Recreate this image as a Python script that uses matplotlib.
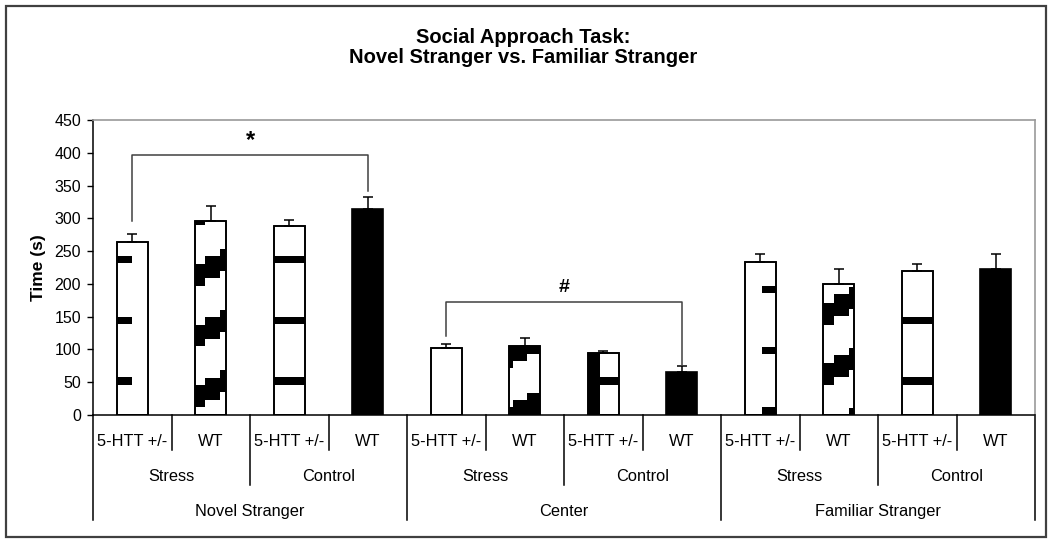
import matplotlib
matplotlib.use("Agg")
import matplotlib.pyplot as plt
from matplotlib.patches import Rectangle
import matplotlib.transforms as mtransforms

plt.rcParams['font.family'] = ['Liberation Sans', 'DejaVu Sans']

# ---------------- data ----------------
regions = ["Novel Stranger", "Center", "Familiar Stranger"]
conditions = ["Stress", "Control"]
genotypes = ["5-HTT +/-", "WT"]
values = [264, 296, 288, 314, 102, 106, 95, 65, 233, 200, 220, 223]
errors = [12, 23, 10, 19, 6, 11, 3, 10, 12, 23, 11, 22]
yticks = [0, 50, 100, 150, 200, 250, 300, 350, 400, 450]
title_lines = ["Social Approach Task:", "Novel Stranger vs. Familiar Stranger"]
ylabel = "Time (s)"
# significance brackets: (left bar, right bar, top, left foot, right foot, symbol)
brackets = [(0, 3, 396, 296, 342, "*"), (4, 7, 172, 121, 76, "#")]

# ---------------- styles (Excel-like pattern fills) ----------------
# each: list of (x0 frac, x1 frac, low, height, period)
P = 92.5


def stair(a, b, d, e, f):
    return [(0, a, d, 33.5, P), (a, b, e, 33.5, P), (b, 1, f, 33.5, P)]


patterns = [
    [(0, 0.48, 46.5, 11, P)],
    stair(0.31, 0.80, 12.0, 23.5, 34.6),
    [(0, 1, 46.5, 11, P)],
    "solid",
    [],
    stair(0.12, 0.57, -21.5, -10.5, 0.6),
    [(0, 0.40, -10, 1000, None), (0.40, 1, 46.5, 11, P)],
    "solid",
    [(0.55, 1, 0.5, 11, P)],
    stair(0.36, 0.83, 45.5, 58.5, 69.0),
    [(0, 1, 46.5, 11, P)],
    "solid",
]

fig = plt.figure(figsize=(10.5, 5.41), dpi=100)
ax = fig.add_axes([93 / 1050, 1 - 415 / 541, (1035 - 93) / 1050, 295 / 541])

n = len(values)
xs = list(range(n))
bw = 0.4
for i, (x, v) in enumerate(zip(xs, values)):
    pat = patterns[i]
    face = "black" if pat == "solid" else "white"
    bar = ax.bar(x, v, width=bw, color=face, edgecolor="black", linewidth=1.2, zorder=2)[0]
    if pat != "solid":
        for (f0, f1, low, h, per) in pat:
            ks = range(-4, 8) if per else [0]
            for k in ks:
                y0 = low + (k * per if per else 0)
                r = Rectangle((x - bw / 2 + f0 * bw, y0), (f1 - f0) * bw, h,
                              facecolor="black", edgecolor="none", zorder=2.5)
                ax.add_patch(r)
                r.set_clip_path(bar)
        # redraw edge on top
        ax.add_patch(Rectangle((x - bw / 2, 0), bw, v, facecolor="none",
                               edgecolor="black", linewidth=1.2, zorder=3))

ax.errorbar(xs, values, yerr=[[0] * n, errors], fmt="none", ecolor="black",
            elinewidth=1.1, capsize=3.3, capthick=1.1, zorder=4)

ax.set_xlim(-0.5, n - 0.5)
ax.set_ylim(0, 450)
ax.set_yticks(yticks)
ax.tick_params(axis="y", direction="out", length=4.5, width=1, labelsize=11.5, pad=4)
ax.set_xticks([])
for s in ["top", "right"]:
    ax.spines[s].set_color("#9a9a9a")
    ax.spines[s].set_linewidth(1.2)
for s in ["left", "bottom"]:
    ax.spines[s].set_color("black")
    ax.spines[s].set_linewidth(1.1)
ax.set_ylabel(ylabel, fontsize=12.5, fontweight="bold")
ax.yaxis.set_label_coords((45.5 - 93) / 942, 0.5)

# brackets
for (a, b, top, fa, fb, sym) in brackets:
    ax.plot([a, a, b, b], [fa, top, top, fb], color="#404040", lw=1.1, zorder=4, clip_on=False)
    ax.text((a + b) / 2, top + 22, sym, ha="center", va="center",
            fontsize=17 if sym == "*" else 14, fontweight="bold")

# hierarchical x labels
tr = mtransforms.blended_transform_factory(ax.transData, ax.transAxes)
r1, r2, r3 = -0.105, -0.2227, -0.3424
e1, e2, e3 = -0.119, -0.237, -0.356
lab_fs = 11.8
for i in range(n):
    ax.text(i, r1, genotypes[i % 2], transform=tr, ha="center", va="baseline", fontsize=lab_fs)
for j in range(n // 2):
    ax.text(2 * j + 0.5, r2, conditions[j % 2], transform=tr, ha="center", va="baseline", fontsize=lab_fs)
for g in range(len(regions)):
    ax.text(4 * g + 1.5, r3, regions[g], transform=tr, ha="center", va="baseline", fontsize=lab_fs)
for b in range(n + 1):
    xb = b - 0.5
    if b % 4 == 0:
        end = e3
    elif b % 2 == 0:
        end = e2
    else:
        end = e1
    ax.plot([xb, xb], [0, end], transform=tr, color="black", lw=1.1, clip_on=False)

for line, base in zip(title_lines, [42.7, 63.0]):
    fig.text(523 / 1050, 1 - base / 541, line, ha="center", va="baseline", fontsize=14.5,
             fontweight="bold")

fig.patches.append(Rectangle((6 / 1050, 1 - 537 / 541), (1046 - 6) / 1050, (537 - 6) / 541,
                             transform=fig.transFigure, facecolor="none",
                             edgecolor="#404040", linewidth=1.6))

fig.savefig("out.png", dpi=100)
